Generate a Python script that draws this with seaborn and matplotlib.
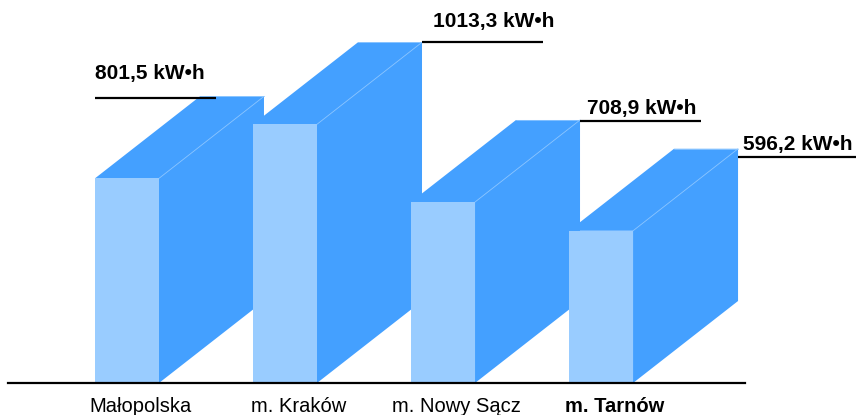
import matplotlib
matplotlib.use("Agg")
import matplotlib.pyplot as plt
import seaborn as sns
import pandas as pd

# data
regions = ["Małopolska", "m. Kraków", "m. Nowy Sącz", "m. Tarnów"]
energy = [801.5, 1013.3, 708.9, 596.2]
value_labels = ["801,5 kW•h", "1013,3 kW•h", "708,9 kW•h", "596,2 kW•h"]

front_color = "#99ccff"
side_color = "#44a0ff"
edge_color = "#8cc6ff"

sns.set_style("white")
plt.rcParams['font.family'] = ['Liberation Sans', 'DejaVu Sans']
plt.rcParams['text.color'] = 'black'
plt.rcParams['xtick.color'] = 'black'
plt.rcParams['xtick.labelcolor'] = 'black'

fig = plt.figure(figsize=(8.56, 4.15), dpi=100)
ax = fig.add_axes([8 / 856, 32 / 415, 737 / 856, 383 / 415])

df = pd.DataFrame({"region": regions, "energy": energy})
bar_w = 0.405
sns.barplot(data=df, x="region", y="energy", color=front_color, saturation=1,
            width=bar_w, linewidth=0, ax=ax)

ax.set_xlim(-0.753, 3.911)
ax.set_ylim(0, 1500)

# depth of the fake 3D boxes, in pixels
depth_px = (105, 82)
to_px = ax.transData.transform
to_data = ax.transData.inverted().transform
o = to_px((0, 0))
d = to_data((o[0] + depth_px[0], o[1] + depth_px[1]))
dx, dy = d[0], d[1]

for i, v in enumerate(energy):
    x0, x1 = i - bar_w / 2, i + bar_w / 2
    ax.patches[i].set_zorder(11 + 2 * i)
    box = plt.Polygon([(x0, v), (x0 + dx, v + dy), (x1 + dx, v + dy),
                       (x1 + dx, dy), (x1, 0), (x1, v)],
                      closed=True, facecolor=side_color, edgecolor="none",
                      zorder=10 + 2 * i)
    ax.add_patch(box)
    ax.plot([x1, x1 + dx], [v, v + dy], color=edge_color, lw=0.6, zorder=10 + 2 * i)
    ax.plot([x0 + dx, x1 + dx], [v + dy, v + dy], color=edge_color, lw=0.6, zorder=10 + 2 * i)

# value labels with underline
label_side = ["left", "right", "right", "right"]
line_drop_px = [2, 0, 1, 8]
text_dx_px = [0, 11, 7, 5]
text_rise_px = [19, 15, 7, 7]
line_len_px = 121

for i, (v, lab) in enumerate(zip(energy, value_labels)):
    if label_side[i] == "left":
        ax_x = i - bar_w / 2
    else:
        ax_x = i + bar_w / 2 + dx
    p = to_px((ax_x, v + dy))
    ly = p[1] - line_drop_px[i]
    a = to_data((p[0], ly))
    b = to_data((p[0] + line_len_px, ly))
    ax.plot([a[0], b[0]], [a[1], b[1]], color="black", lw=1.6, zorder=40, clip_on=False,
            solid_capstyle="butt")
    t = to_data((p[0] + text_dx_px[i], ly + text_rise_px[i]))
    ax.text(t[0], t[1], lab, ha="left", va="baseline", fontsize=15, color="black",
            fontweight="bold", zorder=41, clip_on=False)

ax.set_xticks([i + 0.085 for i in range(len(regions))])
ax.set_xticklabels(regions, color="black")
ax.get_xticklabels()[-1].set_fontweight("bold")
ax.tick_params(axis="x", length=0, pad=10, labelsize=14.5, colors="black")
ax.set_yticks([])
ax.set_xlabel("")
ax.set_ylabel("")
sns.despine(ax=ax, left=True)
ax.spines["bottom"].set_color("black")
ax.spines["bottom"].set_linewidth(1.6)
ax.spines["bottom"].set_zorder(50)

fig.savefig("out.png", dpi=100)
